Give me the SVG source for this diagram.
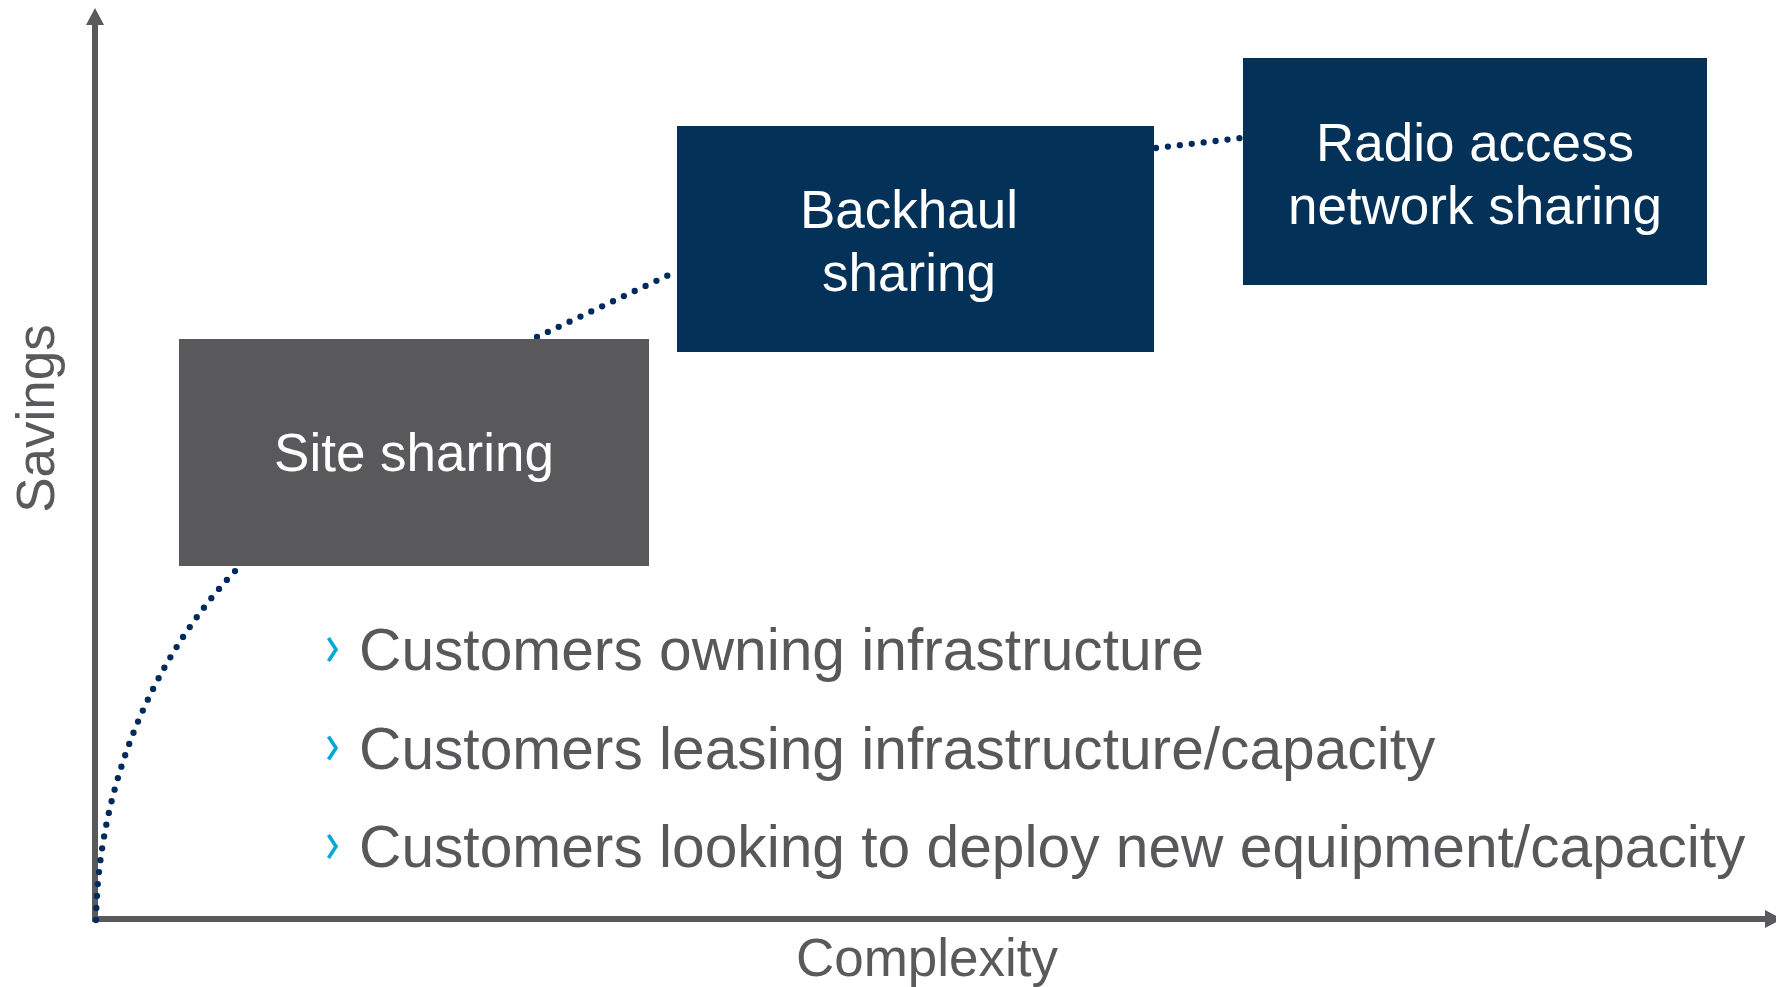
<svg xmlns="http://www.w3.org/2000/svg" width="1776" height="987" viewBox="0 0 1776 987">
  <defs>
    <marker id="arrow" markerUnits="userSpaceOnUse" markerWidth="17" markerHeight="18" refX="3" refY="9" orient="auto" viewBox="0 0 17 18">
      <path d="M0,0 L17,9 L0,18 Z" fill="#5a5a5c"/>
    </marker>
    <style>
      .axis { stroke: #5a5a5c; stroke-width: 6; fill: none; }
      .dots { stroke: #002a5c; stroke-width: 6.3; stroke-dasharray: 0 12; stroke-linecap: round; fill: none; }
      .navy { fill: #033157; }
      .gray { fill: #59595b; }
      .boxtext { font-family: "Liberation Sans", Arial, sans-serif; font-size: 53px; fill: #ffffff; text-anchor: middle; }
      .label { font-family: "Liberation Sans", Arial, sans-serif; font-size: 53px; fill: #5a5a5c; text-anchor: middle; }
      .bullet { font-family: "Liberation Sans", Arial, sans-serif; font-size: 58.7px; fill: #58585a; }
      .chev { stroke: #00a8d8; stroke-width: 3.6; fill: none; stroke-linejoin: miter; }
    </style>
  </defs>

  <g id="axes">
    <line class="axis" x1="95" y1="922" x2="95" y2="22" marker-end="url(#arrow)"/>
    <line class="axis" x1="92" y1="919" x2="1768" y2="919" marker-end="url(#arrow)"/>
    <text class="label" transform="translate(54,418.5) rotate(-90)" x="0" y="0">Savings</text>
    <text class="label" x="927" y="976">Complexity</text>
  </g>

  <g id="connectors">
    <path class="dots" d="M96,920 C98,790 150,660 237,569"/>
    <path class="dots" d="M537,337 L673,273"/>
    <path class="dots" d="M1156,148 L1241,138"/>
  </g>

  <g id="site-sharing">
    <rect class="gray" x="179" y="339" width="470" height="227"/>
    <text class="boxtext" x="414" y="471">Site sharing</text>
  </g>

  <g id="backhaul-sharing">
    <rect class="navy" x="677" y="126" width="477" height="226"/>
    <text class="boxtext" x="909" y="228">Backhaul</text>
    <text class="boxtext" x="909" y="291">sharing</text>
  </g>

  <g id="ran-sharing">
    <rect class="navy" x="1243" y="58" width="464" height="227"/>
    <text class="boxtext" x="1475" y="161">Radio access</text>
    <text class="boxtext" x="1475" y="224">network sharing</text>
  </g>

  <g id="bullets">
    <polyline class="chev" points="328.5,638 336,649.5 328.5,661"/>
    <text class="bullet" x="359" y="670">Customers owning infrastructure</text>
    <polyline class="chev" points="328.5,736.5 336,748 328.5,759.5"/>
    <text class="bullet" x="359" y="768.5">Customers leasing infrastructure/capacity</text>
    <polyline class="chev" points="328.5,835 336,846.5 328.5,858"/>
    <text class="bullet" x="359" y="867">Customers looking to deploy new equipment/capacity</text>
  </g>
</svg>
